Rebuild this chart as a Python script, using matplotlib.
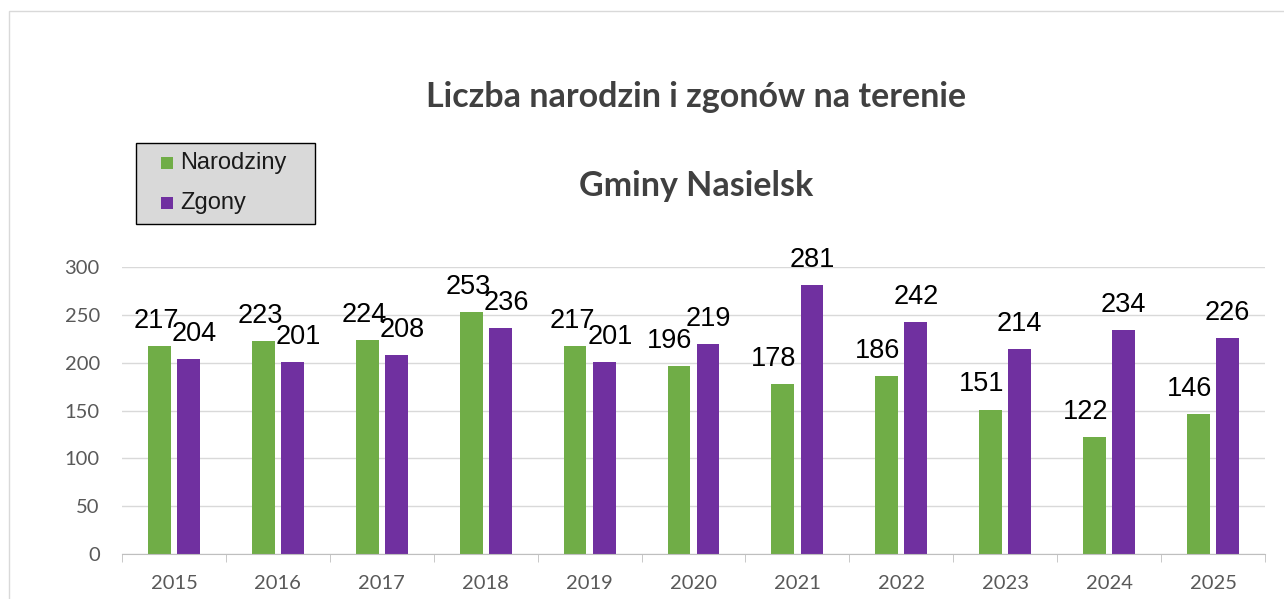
import numpy as np
import matplotlib.pyplot as plt
from matplotlib.patches import Rectangle
from matplotlib.ticker import FixedLocator

plt.rcParams['font.family'] = ['Lato', 'DejaVu Sans']

years = ['2015', '2016', '2017', '2018', '2019', '2020', '2021', '2022', '2023', '2024', '2025']
narodziny = [217, 223, 224, 253, 217, 196, 178, 186, 151, 122, 146]
zgony = [204, 201, 208, 236, 201, 219, 281, 242, 214, 234, 226]
series_names = ['Narodziny', 'Zgony']
colors = ['#70ad47', '#7030a0']

W, H = 1284, 599
fig = plt.figure(figsize=(W / 100, H / 100), dpi=100)

def fx(px):
    return px / W

def fy(py):
    return 1 - py / H

# outer chart frame (only top and left edges are visible in the crop)
fig.patches.append(Rectangle((fx(9), -0.1), 1.2, fy(11) + 0.1, transform=fig.transFigure,
                             fill=False, edgecolor='#d9d9d9', lw=1))

ax = fig.add_axes([fx(122), 45 / H, 1143 / W, 287 / H])

x = np.arange(len(years))
ax.bar(x - 0.14, narodziny, 0.22, color=colors[0], label=series_names[0], zorder=2)
ax.bar(x + 0.14, zgony, 0.22, color=colors[1], label=series_names[1], zorder=2)

ax.set_xlim(-0.5, len(years) - 0.5)
ax.set_ylim(0, 300)
ax.set_yticks(range(0, 301, 50))
ax.yaxis.grid(True, color='#d9d9d9', lw=1)
ax.set_axisbelow(True)
for s in ['top', 'right', 'left']:
    ax.spines[s].set_visible(False)
ax.spines['bottom'].set_color('#bfbfbf')

ax.set_xticks(x, years)
ax.xaxis.set_minor_locator(FixedLocator(np.arange(-0.5, len(years), 1)))
ax.tick_params(axis='x', which='major', length=0, pad=15, labelsize=14.5, labelcolor='#595959')
ax.tick_params(axis='x', which='minor', length=6, color='#bfbfbf')
ax.tick_params(axis='y', length=0, pad=16, labelsize=14.5, labelcolor='#595959')

# data labels (first years shifted like in the original Excel chart)
for i in range(len(years)):
    dn = -3 if i < 5 else -9
    dz = 6 if i < 5 else 0
    ax.annotate(str(narodziny[i]), (x[i] - 0.14, narodziny[i]), xytext=(dn * 0.72, 13),
                textcoords='offset points', ha='center', va='baseline', fontsize=19.5,
                family='Liberation Sans', color='black', annotation_clip=False)
    ax.annotate(str(zgony[i]), (x[i] + 0.14, zgony[i]), xytext=(dz * 0.72, 13),
                textcoords='offset points', ha='center', va='baseline', fontsize=19.5,
                family='Liberation Sans', color='black', annotation_clip=False)

fig.text(fx(696), fy(97), 'Liczba narodzin i zgonów na terenie', ha='center', va='center',
         fontsize=24.5, fontweight='bold', color='#404040')
fig.text(fx(696), fy(186), 'Gminy Nasielsk', ha='center', va='center',
         fontsize=24.5, fontweight='bold', color='#404040')

# legend box drawn by hand to match the Excel layout
fig.patches.append(Rectangle((fx(136), fy(224)), fx(315) - fx(136), fy(143) - fy(224),
                             transform=fig.transFigure, facecolor='#d9d9d9',
                             edgecolor='black', lw=1))
for k, name in enumerate(series_names):
    yc = 163 + 40 * k
    fig.patches.append(Rectangle((fx(161), fy(yc + 6)), 12 / W, 12 / H,
                                 transform=fig.transFigure, facecolor=colors[k], lw=0))
    fig.text(fx(180), fy(yc), name, ha='left', va='center', fontsize=17,
             family='Liberation Sans', color='#1a1a1a')

fig.savefig('out.png', dpi=100)
